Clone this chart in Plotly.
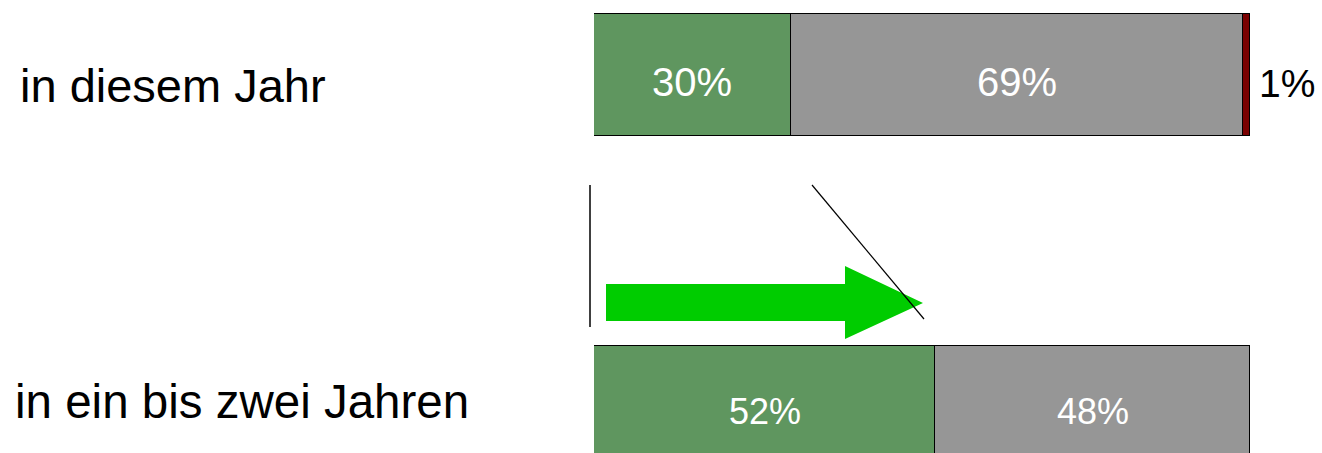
import plotly.graph_objects as go

# ---- data ----
categories = ["in diesem Jahr", "in ein bis zwei Jahren"]
series_names = ["Ja", "Nein", "Weiß nicht"]
green_vals = [30, 52]
gray_vals = [69, 48]
red_vals = [1, 0]
colors = ["#5F965F", "#969696", "#7A0000"]

W, H = 1322, 453
positions = list(range(len(categories)))

fig = go.Figure()
for name, vals, col in zip(series_names, [green_vals, gray_vals, red_vals], colors):
    fig.add_trace(go.Bar(
        y=positions, x=vals, orientation="h", name=name,
        marker=dict(color=col, line=dict(color="#000000", width=1)),
        width=0.3675, hoverinfo="skip", showlegend=False,
    ))

def px(x):
    return x / W

def py(y):
    return 1 - y / H

annotations = []
label_fonts = [dict(family="Liberation Sans, Arial, sans-serif", size=40, color="white"),
               dict(family="Liberation Sans, Arial, sans-serif", size=36, color="white")]
yshifts = [-7, -4]
for i, pos in enumerate(positions):
    cum = 0
    for vals in [green_vals, gray_vals]:
        v = vals[i]
        if v > 0:
            annotations.append(dict(x=cum + v / 2, y=pos, xref="x", yref="y",
                                    text=f"{v}%", showarrow=False,
                                    font=label_fonts[i], yshift=yshifts[i]))
        cum += v
    rv = red_vals[i]
    if rv > 0:
        annotations.append(dict(x=cum + rv, y=pos, xref="x", yref="y",
                                text=f"{rv}%", showarrow=False, xanchor="left",
                                xshift=7, yshift=-8,
                                font=dict(family="Liberation Sans, Arial, sans-serif", size=39, color="black")))
    annotations.append(dict(x=px([18, 13][i]), y=pos, xref="paper", yref="y", xanchor="left",
                            text=categories[i], showarrow=False, yshift=[-10, 6][i],
                            font=dict(family="Liberation Sans, Arial, sans-serif", size=[47, 47.5][i], color="black")))

# decorative arrow and lines (window pixel -> paper)
arrow_pts = [(606, 284), (845, 284), (845, 266), (923, 303), (845, 339), (845, 321), (606, 321)]
path = "M " + " L ".join(f"{px(x):.5f},{py(y):.5f}" for x, y in arrow_pts) + " Z"
shapes = [
    dict(type="path", path=path, xref="paper", yref="paper",
         fillcolor="#00CC00", line=dict(width=0)),
    dict(type="line", xref="paper", yref="paper", x0=px(590), y0=py(185), x1=px(590), y1=py(327),
         line=dict(color="black", width=1.5)),
    dict(type="line", xref="paper", yref="paper", x0=px(812), y0=py(185), x1=px(924), y1=py(319),
         line=dict(color="black", width=1.2)),
]

c0 = 75
span = 407 - 75
fig.update_layout(
    width=W, height=H, barmode="stack",
    margin=dict(l=0, r=0, t=0, b=0),
    paper_bgcolor="white", plot_bgcolor="white",
    xaxis=dict(range=[0, 100], domain=[px(594), px(1250)], visible=False, fixedrange=True),
    yaxis=dict(range=[(H - c0) / span, -c0 / span], visible=False, fixedrange=True),
    annotations=annotations, shapes=shapes, bargap=0,
)

fig.write_html("out.html", config={"displayModeBar": False},
               post_script="document.body.style.margin='0';document.body.style.overflow='hidden';")
